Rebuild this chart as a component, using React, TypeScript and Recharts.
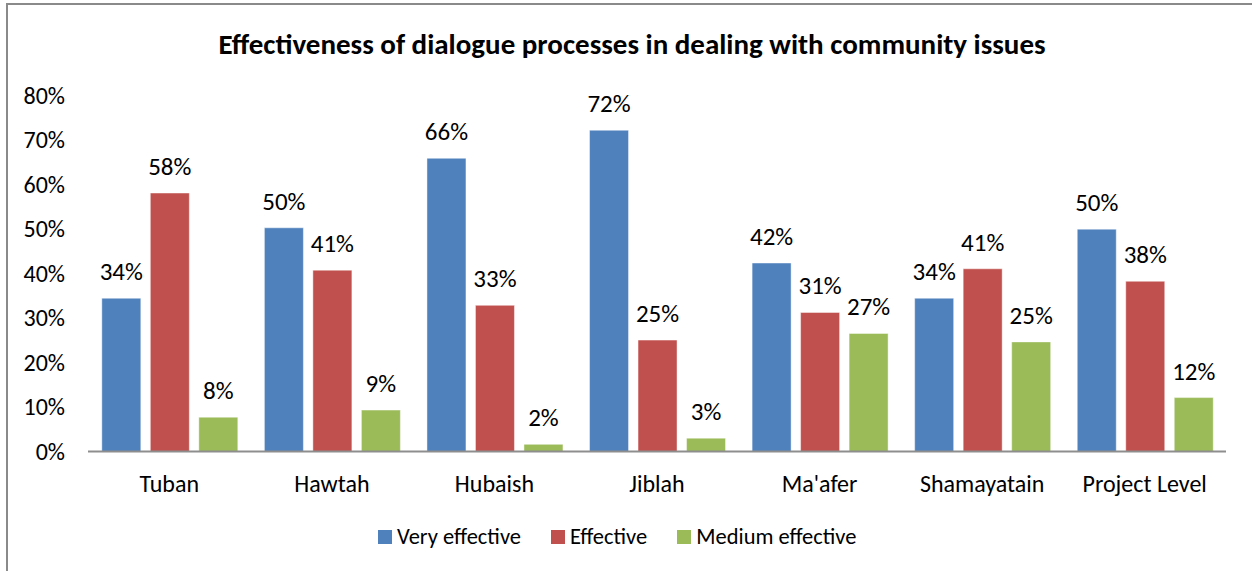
import React from 'react';
import { BarChart, Bar, XAxis, YAxis, LabelList } from 'recharts';

// Values (percent)
const districts = ['Tuban', 'Hawtah', 'Hubaish', 'Jiblah', "Ma'afer", 'Shamayatain', 'Project Level'];
const veryEffective = [34.4, 50.2, 65.8, 72.1, 42.3, 34.4, 49.9];
const effective = [58.0, 40.7, 32.8, 25.0, 31.2, 41.0, 38.2];
const mediumEffective = [7.7, 9.3, 1.6, 3.0, 26.5, 24.6, 12.1];
const yTicks = [0, 10, 20, 30, 40, 50, 60, 70, 80];

const SERIES = [
  { key: 'very', name: 'Very effective', color: '#4F81BD' },
  { key: 'eff', name: 'Effective', color: '#C0504D' },
  { key: 'med', name: 'Medium effective', color: '#9BBB59' },
];

const data = districts.map((name, i) => ({
  name,
  very: veryEffective[i],
  eff: effective[i],
  med: mediumEffective[i],
}));

const FONT = 'Carlito, Lato, "Open Sans", sans-serif';
const pct = (v: number) => `${Math.round(v)}%`;

export default function App() {
  return (
    <div
      style={{
        position: 'absolute',
        left: 0,
        top: 0,
        width: 1252,
        height: 571,
        overflow: 'hidden',
        background: '#fff',
        fontFamily: FONT,
      }}
    >
      {/* chart frame, runs off the right and bottom edges */}
      <div
        style={{
          position: 'absolute',
          left: 6,
          top: 3,
          width: 1300,
          height: 620,
          border: '2px solid #8a8a8a',
          boxSizing: 'border-box',
        }}
      />
      <div
        style={{
          position: 'absolute',
          left: 0,
          width: 1264,
          top: 26,
          textAlign: 'center',
          fontWeight: 700,
          fontSize: 29,
          lineHeight: '36px',
          color: '#000',
        }}
      >
        Effectiveness of dialogue processes in dealing with community issues
      </div>
      <div style={{ position: 'absolute', left: 0, top: 0 }}>
        <BarChart
          width={1252}
          height={571}
          data={data}
          margin={{ top: 95, right: 26, left: 0, bottom: 89.5 }}
          barCategoryGap="8.5%"
          barGap={9.5}
        >
          <YAxis
            domain={[0, 80]}
            ticks={yTicks}
            tickFormatter={(v) => `${v}%`}
            width={88}
            axisLine={false}
            tickLine={false}
            tickMargin={17}
            tick={{ fontSize: 24, fill: '#000', fontFamily: FONT }}
            interval={0}
          />
          <XAxis
            dataKey="name"
            height={30}
            axisLine={{ stroke: '#8e8e8e', strokeWidth: 2 }}
            tickLine={false}
            tickMargin={17}
            interval={0}
            tick={{ fontSize: 24, fill: '#000', fontFamily: FONT }}
          />
          {SERIES.map((s) => (
            <Bar
              key={s.key}
              dataKey={s.key}
              name={s.name}
              fill={s.color}
              stroke="rgba(255,255,255,0.45)"
              strokeWidth={1}
              isAnimationActive={false}
            >
              <LabelList
                dataKey={s.key}
                position="top"
                offset={18}
                formatter={(v: number) => pct(v)}
                style={{ fontSize: 25, fill: '#000', fontFamily: FONT }}
              />
            </Bar>
          ))}
        </BarChart>
      </div>
      <div
        style={{
          position: 'absolute',
          left: 378,
          top: 522,
          display: 'flex',
          alignItems: 'center',
          fontSize: 22.5,
          lineHeight: '30px',
          color: '#000',
        }}
      >
        {SERIES.map((s, i) => (
          <div
            key={s.key}
            style={{ display: 'flex', alignItems: 'center', marginRight: i < SERIES.length - 1 ? 30 : 0 }}
          >
            <span style={{ width: 14, height: 14, background: s.color, marginRight: 5, display: 'inline-block' }} />
            <span>{s.name}</span>
          </div>
        ))}
      </div>
    </div>
  );
}
